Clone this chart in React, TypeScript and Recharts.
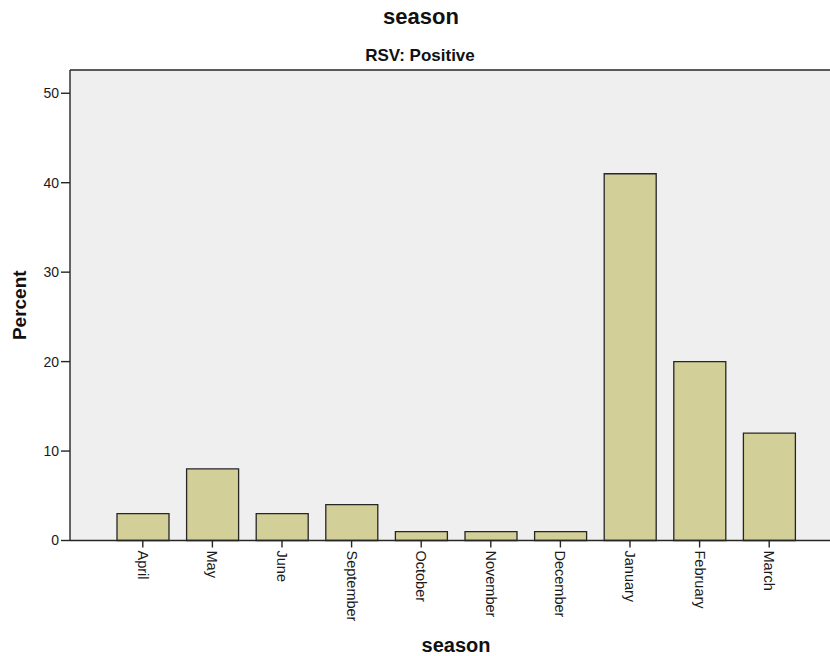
import React from 'react';
import {
  BarChart,
  Bar,
  XAxis,
  YAxis,
  CartesianGrid,
  ReferenceLine,
} from 'recharts';

const months = [
  'April',
  'May',
  'June',
  'September',
  'October',
  'November',
  'December',
  'January',
  'February',
  'March',
];
const percent = [3, 8, 3, 4, 1, 1, 1, 41, 20, 12];
const yTicks = [0, 10, 20, 30, 40, 50];
const yMax = 52.6;

const FONT = '"Liberation Sans", Arial, sans-serif';

const chartData = months.map((m, i) => ({ month: m, pct: percent[i] }));

const MonthTick = (props: any) => {
  const { x, y, payload } = props;
  return (
    <g transform={`translate(${x},${y})`}>
      <text
        transform="rotate(90)"
        textAnchor="start"
        dy="0.35em"
        fontSize={14.5}
        fontFamily={FONT}
        fill="#1a1a1a"
      >
        {payload.value}
      </text>
    </g>
  );
};

const PercentLabel = (props: any) => {
  const { viewBox } = props;
  const cx = 19;
  const cy = viewBox.y + viewBox.height / 2;
  return (
    <text
      x={cx}
      y={cy}
      transform={`rotate(-90, ${cx}, ${cy})`}
      textAnchor="middle"
      dy="0.35em"
      fontSize={19}
      fontWeight="bold"
      fontFamily={FONT}
      fill="#111"
    >
      Percent
    </text>
  );
};

export default function App() {
  return (
    <div
      style={{
        position: 'absolute',
        left: 0,
        top: 0,
        width: 830,
        height: 656,
        overflow: 'hidden',
        background: '#fff',
      }}
    >
      <BarChart
        width={842}
        height={656}
        data={chartData}
        margin={{ top: 70, right: 0, bottom: 0, left: 0 }}
      >
        <CartesianGrid fill="#EFEFEF" horizontal={false} vertical={false} />
        <XAxis
          dataKey="month"
          height={115.5}
          padding={{ left: 38, right: 38 }}
          axisLine={{ stroke: '#262626', strokeWidth: 1.4 }}
          tickLine={{ stroke: '#262626', strokeWidth: 1.4 }}
          tickSize={7}
          tickMargin={3}
          interval={0}
          tick={<MonthTick />}
          label={{
            value: 'season',
            position: 'insideBottom',
            offset: 4,
            style: { fontSize: 20, fontWeight: 'bold', fontFamily: FONT, fill: '#111' },
          }}
        />
        <YAxis
          width={70}
          domain={[0, yMax]}
          ticks={yTicks}
          axisLine={{ stroke: '#262626', strokeWidth: 1.4 }}
          tickLine={{ stroke: '#262626', strokeWidth: 1.4 }}
          tickSize={9}
          tickMargin={2}
          tick={{ fontSize: 14, fontFamily: FONT, fill: '#1a1a1a' }}
          label={<PercentLabel />}
        />
        <ReferenceLine y={yMax} stroke="#262626" strokeWidth={1.4} />
        <Bar
          dataKey="pct"
          fill="#D3CF98"
          stroke="#262626"
          strokeWidth={1.3}
          barSize={52}
          isAnimationActive={false}
        />
      </BarChart>
      <svg
        width={830}
        height={70}
        style={{ position: 'absolute', left: 0, top: 0 }}
      >
        <text
          x={421}
          y={24}
          textAnchor="middle"
          fontSize={22}
          fontWeight="bold"
          fontFamily={FONT}
          fill="#111"
        >
          season
        </text>
        <text
          x={420}
          y={61}
          textAnchor="middle"
          fontSize={17}
          fontWeight="bold"
          fontFamily={FONT}
          fill="#111"
        >
          RSV: Positive
        </text>
      </svg>
    </div>
  );
}
